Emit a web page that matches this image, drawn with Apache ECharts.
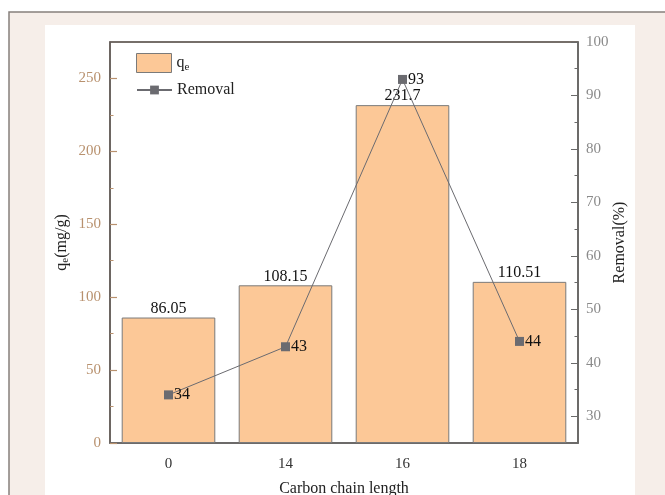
<!DOCTYPE html>
<html><head><meta charset="utf-8">
<script src="https://cdn.jsdelivr.net/npm/echarts@6/dist/echarts.min.js"></script>
<style>html,body{margin:0;padding:0;background:#fff}#c{width:665px;height:495px}</style>
</head><body><div id="c"></div>
<script>
const categories = ['0', '14', '16', '18'];
const qeValues = [86.05, 108.15, 231.7, 110.51];
const removalValues = [34, 43, 93, 44];
const leftTicks = [0, 50, 100, 150, 200, 250];
const leftMinorTicks = [25, 75, 125, 175, 225];
const rightTicks = [30, 40, 50, 60, 70, 80, 90, 100];
const rightMinorTicks = [35, 45, 55, 65, 75, 85, 95];

const FONT = '"Liberation Serif", "Times New Roman", serif';
const chart = echarts.init(document.getElementById('c'), null, {renderer: 'canvas'});
const GL = 110, GT = 42, GR = 665 - 578, GB = 495 - 443;
const legendText = {fontFamily: FONT, fontSize: 16, color: '#222',
  rich: {a: {fontFamily: FONT, fontSize: 16, color: '#222'},
         s: {fontFamily: FONT, fontSize: 11, color: '#222', padding: [8, 0, 0, 0]}}};

chart.setOption({
  animation: false,
  backgroundColor: '#fff',
  textStyle: {fontFamily: FONT},
  graphic: [
    {type: 'rect', z: -10, shape: {x: 9, y: 12, width: 700, height: 520},
     style: {fill: '#F6EEE9', stroke: '#86807c', lineWidth: 1.5}},
    {type: 'rect', z: -9, shape: {x: 45, y: 25, width: 590, height: 480},
     style: {fill: '#ffffff'}}
  ],
  grid: {left: GL, top: GT, right: GR, bottom: GB, containLabel: false, outerBoundsMode: 'none',
         show: true, borderColor: '#4a403a', borderWidth: 1.5, backgroundColor: 'transparent'},
  legend: [
    {left: 131, top: 48, itemWidth: 35, itemHeight: 19, textStyle: legendText,
     formatter: function (n) { return n === 'qe' ? '{a|q}{s|e}' : n; },
     data: [{name: 'qe', icon: 'rect', itemStyle: {color: '#FCC897', borderColor: '#7a7a7a', borderWidth: 1}}]},
    {left: 131, top: 77, itemWidth: 35, itemHeight: 11, textStyle: legendText,
     data: [{name: 'Removal'}]}
  ],
  xAxis: [
    {type: 'category', data: categories, position: 'bottom',
     name: 'Carbon chain length', nameLocation: 'middle', nameGap: 38, nameMoveOverlap: false,
     nameTextStyle: {fontFamily: FONT, fontSize: 16, color: '#222'},
     axisLine: {lineStyle: {color: '#6a6a6a', width: 1.5}},
     axisTick: {alignWithLabel: true, inside: true, length: 7, lineStyle: {color: '#6a6a6a'}},
     axisLabel: {fontFamily: FONT, fontSize: 15, color: '#333', margin: 14},
     splitLine: {show: false}},
    {type: 'category', data: categories, position: 'bottom',
     axisLine: {show: false},
     axisTick: {alignWithLabel: false, inside: true, length: 3, lineStyle: {color: '#555'}},
     axisLabel: {show: false}, splitLine: {show: false}}
  ],
  yAxis: [
    {type: 'value', min: 0, max: 275, position: 'left',
     name: '{a|q}{s|e}{a|(mg/g)}', nameLocation: 'middle', nameGap: 39, nameRotate: 90, nameMoveOverlap: false,
     nameTextStyle: {fontFamily: FONT, fontSize: 16, color: '#222',
       rich: {a: {fontFamily: FONT, fontSize: 16, color: '#222'},
              s: {fontFamily: FONT, fontSize: 11, color: '#222', padding: [8, 0, 0, 0]}}},
     axisLine: {show: true, lineStyle: {color: '#6b6360', width: 1.5}},
     axisTick: {show: true, inside: true, length: 7, customValues: leftTicks, lineStyle: {color: '#B8916E', width: 1.2}},
     axisLabel: {fontFamily: FONT, fontSize: 15, color: '#B8916E', margin: 9, customValues: leftTicks},
     splitLine: {show: false}},
    {type: 'value', min: 25, max: 100, position: 'right',
     name: 'Removal(%)', nameLocation: 'middle', nameGap: 34, nameRotate: 90, nameMoveOverlap: false,
     nameTextStyle: {fontFamily: FONT, fontSize: 16, color: '#222'},
     axisLine: {show: true, lineStyle: {color: '#6a6a6a', width: 1.5}},
     axisTick: {show: true, inside: true, length: 7, customValues: rightTicks, lineStyle: {color: '#6a6a6a'}},
     axisLabel: {fontFamily: FONT, fontSize: 15, color: '#8a8a8a', margin: 8, customValues: rightTicks},
     splitLine: {show: false}},
    {type: 'value', min: 0, max: 275, position: 'left',
     axisLine: {show: false},
     axisTick: {show: true, inside: true, length: 3.5, customValues: leftMinorTicks, lineStyle: {color: '#B8916E'}},
     axisLabel: {show: false, customValues: leftMinorTicks}, splitLine: {show: false}},
    {type: 'value', min: 25, max: 100, position: 'right',
     axisLine: {show: false},
     axisTick: {show: true, inside: true, length: 3.5, customValues: rightMinorTicks, lineStyle: {color: '#6a6a6a'}},
     axisLabel: {show: false, customValues: rightMinorTicks}, splitLine: {show: false}}
  ],
  series: [
    {name: 'qe', type: 'bar', data: qeValues, xAxisIndex: 0, yAxisIndex: 0, barWidth: '80%',
     itemStyle: {color: '#FCC897', borderColor: '#7a7a7a', borderWidth: 1},
     label: {show: true, position: 'top', distance: 1, fontFamily: FONT, fontSize: 16, color: '#111'}},
    {name: 'Removal', type: 'line', data: removalValues, xAxisIndex: 0, yAxisIndex: 1,
     symbol: 'rect', symbolSize: 9, z: 5,
     lineStyle: {color: '#6b6b70', width: 1},
     itemStyle: {color: '#6b6b70'},
     label: {show: true, position: 'right', distance: 1, fontFamily: FONT, fontSize: 16, color: '#111'}}
  ]
});
</script></body></html>
